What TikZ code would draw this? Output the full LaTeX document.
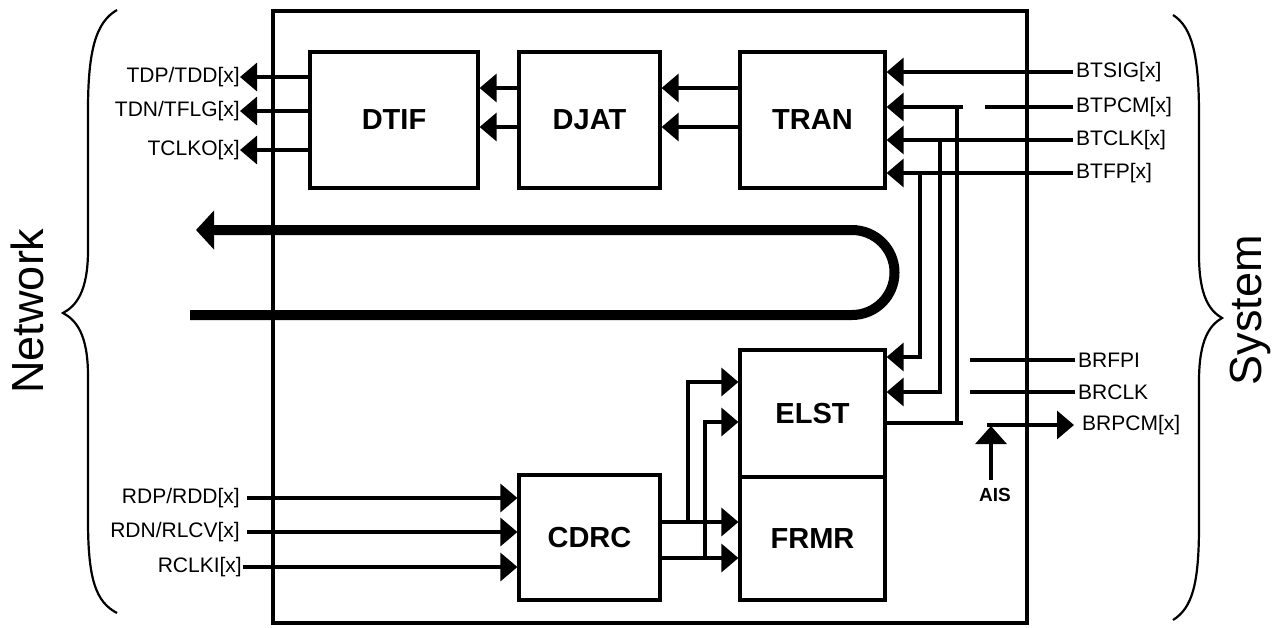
\documentclass[tikz,border=0pt]{standalone}
\usepackage{fontspec}
\setmainfont{Liberation Sans}
\usetikzlibrary{arrows.meta}
\begin{document}
\begin{tikzpicture}[x=1pt,y=-1pt,
  blk/.style={draw, line width=3.2pt, font=\bfseries\fontsize{29}{29}\selectfont, inner sep=0pt},
  wire/.style={line width=3.4pt},
  sig/.style={wire, -{Triangle[length=17pt,width=28pt]}},
  lbl/.style={font=\fontsize{21}{21}\selectfont, inner sep=0pt},
  brace/.style={line width=2.2pt},
  side/.style={font=\fontsize{45}{45}\selectfont, rotate=90, anchor=base, inner sep=0pt}]
\useasboundingbox (0,0) rectangle (1273,627);

% main chip box
\node[draw, line width=3.5pt, minimum width=754pt, minimum height=612pt, inner sep=0pt] (chip) at (650,317) {};

% blocks
\node[blk, minimum width=168pt, minimum height=136pt] (dtif) at (394,120) {DTIF};
\node[blk, minimum width=141pt, minimum height=136pt] (djat) at (589.5,120) {DJAT};
\node[blk, minimum width=145pt, minimum height=136pt] (tran) at (812.5,120) {TRAN};
\node[blk, minimum width=145pt, minimum height=127pt] (elst) at (812.5,413.5) {ELST};
\node[blk, minimum width=145pt, minimum height=123pt] (frmr) at (812.5,538.5) {FRMR};
\node[blk, minimum width=141pt, minimum height=125pt] (cdrc) at (589.5,537.5) {CDRC};

% transmit chain
\draw[sig] (djat.west |- 0,88) -- (dtif.east |- 0,88);
\draw[sig] (djat.west |- 0,127) -- (dtif.east |- 0,127);
\draw[sig] (tran.west |- 0,88) -- (djat.east |- 0,88);
\draw[sig] (tran.west |- 0,127) -- (djat.east |- 0,127);

% network transmit outputs
\node[lbl, anchor=east] (tdp) at (240,77) {TDP/TDD[x]};
\node[lbl, anchor=east] (tdn) at (240,111) {TDN/TFLG[x]};
\node[lbl, anchor=east] (tclko) at (240,150) {TCLKO[x]};
\draw[sig] (dtif.west |- tdp.east) -- (tdp.east);
\draw[sig] (dtif.west |- tdn.east) -- (tdn.east);
\draw[sig] (dtif.west |- tclko.east) -- (tclko.east);

% network receive inputs
\node[lbl, anchor=east] (rdp) at (240,498) {RDP/RDD[x]};
\node[lbl, anchor=east] (rdn) at (240,532) {RDN/RLCV[x]};
\node[lbl, anchor=east] (rclki) at (242,567) {RCLKI[x]};
\coordinate (rdps) at (247,498);
\coordinate (rdns) at (247,532);
\coordinate (rclks) at (243,567);
\draw[sig] (rdps) -- (cdrc.west |- rdps);
\draw[sig] (rdns) -- (cdrc.west |- rdns);
\draw[sig] (rclks) -- (cdrc.west |- rclks);

% CDRC outputs
\coordinate (c1) at (688,522);
\coordinate (c2) at (705,558);
\draw[sig] (cdrc.east |- c1) -- (frmr.west |- c1);
\draw[sig] (cdrc.east |- c2) -- (frmr.west |- c2);
\draw[sig] (c1) -- (688,382) -- (elst.west |- 0,382);
\draw[sig] (c2) -- (705,422) -- (elst.west |- 0,422);

% system transmit side
\node[lbl, anchor=west] (btsig) at (1076,72) {BTSIG[x]};
\node[lbl, anchor=west] (btpcm) at (1076,107) {BTPCM[x]};
\node[lbl, anchor=west] (btclk) at (1076,140) {BTCLK[x]};
\node[lbl, anchor=west] (btfp) at (1076,173) {BTFP[x]};
\coordinate (ls) at (1073,0);
\draw[sig] (ls |- btsig.west) -- (tran.east |- btsig.west);
\draw[sig] (ls |- btclk.west) -- (tran.east |- btclk.west);
\draw[sig] (ls |- btfp.west) -- (tran.east |- btfp.west);
\coordinate (pcmgap) at (985,107);
\draw[wire] (ls |- btpcm.west) -- (pcmgap);

% loopback of BTPCM / clocks to ELST
\coordinate (lbtop) at (963,107);
\coordinate (lbbot) at (963,423);
\draw[sig] (lbtop) -- (tran.east |- lbtop);
\draw[wire, line cap=rect] (957,107) -- (957,423);
\draw[wire] (elst.east |- lbbot) -- (lbbot);
\draw[sig] (940,140) -- (940,392) -- (elst.east |- 0,392);
\draw[sig] (920,173) -- (920,357) -- (elst.east |- 0,357);

% system receive side
\node[lbl, anchor=west] (brfpi) at (1078,360) {BRFPI};
\node[lbl, anchor=west] (brclk) at (1078,392) {BRCLK};
\node[lbl, anchor=west] (brpcm) at (1082,425) {BRPCM[x]};
\coordinate (rs) at (1075,0);
\draw[wire] (rs |- brfpi.west) -- (970,360);
\draw[wire] (rs |- brclk.west) -- (970,392);
\coordinate (brs) at (987,425);
\draw[sig] (brs) -- (1074,425);
\node[font=\bfseries\fontsize{19}{19}\selectfont, inner sep=0pt] (ais) at (995,495) {AIS};
\coordinate (aisb) at (991,480);
\draw[wire, -{Triangle[length=18pt,width=31pt]}] (aisb) -- (991,426);

% loopback of line data (thick)
\draw[line width=10pt, -{Triangle[length=18pt,width=38pt]}]
  (190,315) -- (852,315) arc[start angle=90, end angle=-90, radius=42.5] -- (196,230);

% braces
\draw[brace] (117,10) .. controls (96,22) and (88,50) .. (88,110) -- (88,250)
  .. controls (88,292) and (76,306) .. (63,313)
  .. controls (76,320) and (88,334) .. (88,376) -- (88,520)
  .. controls (88,580) and (96,602) .. (117,613);
\draw[brace] (1173,15) .. controls (1192,27) and (1199,55) .. (1199,115) -- (1199,255)
  .. controls (1199,297) and (1210,311) .. (1222,318)
  .. controls (1210,325) and (1199,339) .. (1199,381) -- (1199,525)
  .. controls (1199,585) and (1192,608) .. (1173,620);

% side labels
\node[side] (net) at (43,311) {Network};
\node[side] (sys) at (1261,310) {System};
\end{tikzpicture}
\end{document}
